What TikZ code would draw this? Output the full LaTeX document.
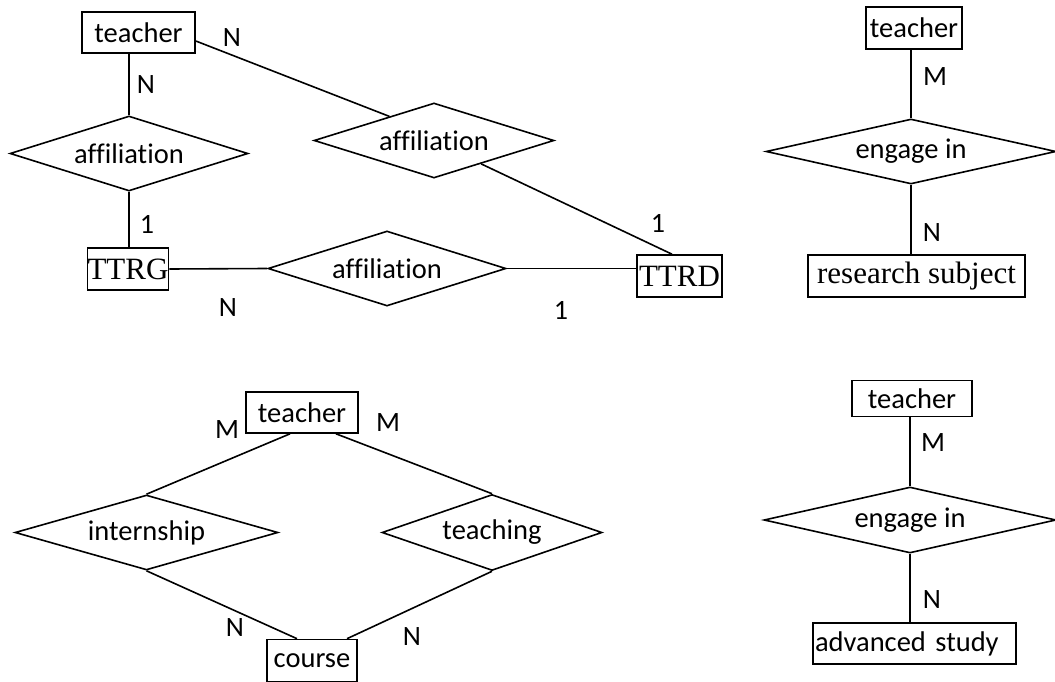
\documentclass[tikz,border=0pt]{standalone}
\usepackage{fontspec}
\setmainfont{Carlito}[Ligatures=NoCommon]
\newfontfamily\serifrm{Liberation Serif}
\usepackage{tikz}
\usetikzlibrary{calc,shapes.geometric}
\tikzset{
  entity/.style={draw, rectangle, line width=1.6pt, inner sep=0pt, align=center, font=\fontsize{28.5}{31}\selectfont},
  serifentity/.style={entity, font=\serifrm\fontsize{31}{33}\selectfont},
  relation/.style={draw, diamond, aspect=3, line width=1.6pt, inner sep=0pt, font=\fontsize{28.5}{31}\selectfont},
  card/.style={inner sep=0pt, font=\fontsize{28}{30}\selectfont},
  link/.style={line width=1.6pt},
  sz/.style 2 args={minimum width=#1pt, minimum height=#2pt}
}
\begin{document}
\begin{tikzpicture}[x=1pt,y=-1pt]
  \useasboundingbox (0,0) rectangle (1055,682);

  \node[entity, sz={113}{41}] (tA) at (138.5,32.5) {teacher};
  \node[relation, sz={238}{75}] (affA) at (129,153.5) {affiliation};
  \node[relation, sz={240}{75}] (affB) at (434,140.5) {affiliation};
  \node[relation, sz={238}{75}] (affC) at (387,268.5) {affiliation};
  \node[serifentity, sz={78}{42}] (ttrg) at (128,269) {TTRG};
  \node[serifentity, sz={85}{42}] (ttrd) at (679.5,276) {TTRD};

  \node[card] (cA1) at (232,38) {N};
  \node[card] (cA2) at (146,85) {N};
  \node[card] (cA3) at (147,224) {1};
  \node[card] (cA4) at (228,308) {N};
  \node[card] (cA5) at (658,223) {1};
  \node[card] (cA6) at (561,310) {1};

  \draw[link] (affA.north) -- (affA.north |- tA.south);
  \draw[link] (affA.south) -- (affA.south |- ttrg.north);
  \draw[link] ([yshift=-8.5pt]tA.east) -- ($(affB.west)!0.63!(affB.north)$);
  \draw[link] ($(affB.south)!0.39!(affB.east)$) -- ([xshift=-7.5pt]ttrd.north);
  \draw[link] (ttrg.east) -- (affC.west);
  \draw[link] (affC.east) -- (affC.east -| ttrd.west);

  \node[entity, sz={96}{42}] (tB) at (914,28) {teacher};
  \node[relation, sz={290}{65}] (engA) at (911,151.5) {engage in};
  \node[serifentity, sz={217}{42}] (rsub) at (916.5,276) {research subject};
  \node[card] (cB1) at (935,77) {M};
  \node[card] (cB2) at (932,233) {N};

  \draw[link] (engA.north) -- (engA.north |- tB.south);
  \draw[link] (engA.south) -- (engA.south |- rsub.north);

  \node[entity, sz={112}{41}] (tC) at (302,412.5) {teacher};
  \node[relation, sz={263}{75}] (intern) at (146.5,532.5) {internship};
  \node[relation, sz={220}{76}] (teach) at (492,532.5) {teaching};
  \node[entity, sz={90}{42}] (course) at (312,660.5) {course};
  \node[card] (cC1) at (227,430) {M};
  \node[card] (cC2) at (388,423) {M};
  \node[card] (cC3) at (235,628) {N};
  \node[card] (cC4) at (412,637) {N};

  \draw[link] ([xshift=-12pt]tC.south) -- (intern.north);
  \draw[link] ([xshift=34pt]tC.south) -- (teach.north);
  \draw[link] (intern.south) -- ([xshift=-15pt]course.north);
  \draw[link] (teach.south) -- ([xshift=35pt]course.north);

  \node[entity, sz={120}{36}] (tD) at (912,398.5) {teacher};
  \node[relation, sz={292}{66}] (engB) at (910,520) {engage in};
  \node[entity, sz={203}{41}, inner xsep=2pt, text width=199pt, align=left] (adv) at (914.5,643.5) {advanced study};
  \node[card] (cD1) at (933,443) {M};
  \node[card] (cD2) at (932,600) {N};

  \draw[link] (engB.north) -- (engB.north |- tD.south);
  \draw[link] (engB.south) -- (engB.south |- adv.north);
\end{tikzpicture}
\end{document}
